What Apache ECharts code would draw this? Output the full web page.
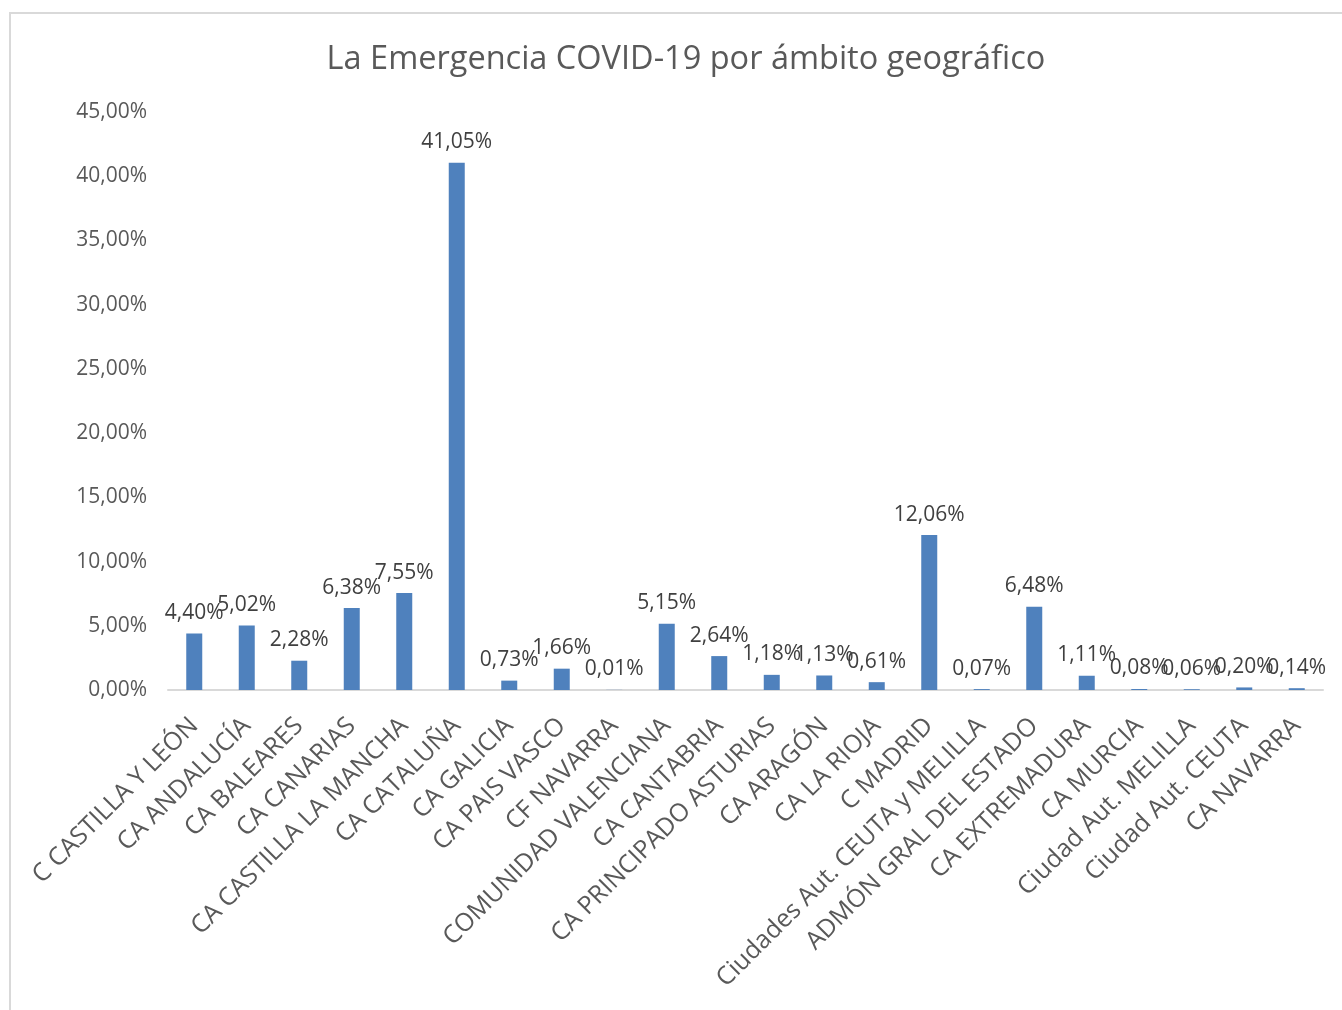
<!DOCTYPE html>
<html><head><meta charset="utf-8">
<script src="https://cdn.jsdelivr.net/npm/echarts@6/dist/echarts.min.js"></script>
<style>html,body{margin:0;padding:0;background:#fff}#c{width:1342px;height:1010px}</style>
</head><body><div id="c"></div>
<script>
const categories = ["C CASTILLA Y LEÓN","CA ANDALUCÍA","CA BALEARES","CA CANARIAS","CA CASTILLA LA MANCHA","CA CATALUÑA","CA GALICIA","CA PAIS VASCO","CF NAVARRA","COMUNIDAD VALENCIANA","CA CANTABRIA","CA PRINCIPADO ASTURIAS","CA ARAGÓN","CA LA RIOJA","C MADRID","Ciudades Aut. CEUTA y MELILLA","ADMÓN GRAL DEL ESTADO","CA EXTREMADURA","CA MURCIA","Ciudad Aut. MELILLA","Ciudad Aut. CEUTA","CA NAVARRA"];
const values = [4.40,5.02,2.28,6.38,7.55,41.05,0.73,1.66,0.01,5.15,2.64,1.18,1.13,0.61,12.06,0.07,6.48,1.11,0.08,0.06,0.20,0.14];
const title = "La Emergencia COVID-19 por ámbito geográfico";
const fmt = v => v.toFixed(2).replace('.', ',') + '%';
const chart = echarts.init(document.getElementById('c'));
const font = '"Open Sans", sans-serif';
chart.setOption({
  animation:false,
  textStyle:{fontFamily:font},
  graphic:[{type:'rect',shape:{x:10,y:13,width:1340,height:1005},style:{fill:'none',stroke:'#d9d9d9',lineWidth:2},z:-1}],
  title:{text:title,left:681,textAlign:'center',top:38,textStyle:{fontFamily:font,fontSize:32.5,fontWeight:'normal',color:'#595959'}},
  grid:{left:168,right:19,top:112,bottom:320,containLabel:false},
  xAxis:{type:'category',data:categories,
    axisLine:{lineStyle:{color:'#d9d9d9',width:2}},axisTick:{show:false},
    axisLabel:{rotate:45,interval:0,fontSize:25,color:'#595959',margin:32,fontFamily:font}},
  yAxis:{type:'value',min:0,max:45,interval:5,
    axisLine:{show:false},axisTick:{show:false},splitLine:{show:false},
    axisLabel:{formatter:v=>fmt(v),fontSize:21,color:'#595959',margin:21,fontFamily:font}},
  series:[{type:'bar',data:values,barWidth:16,itemStyle:{color:'#4f81bd'},
    label:{show:true,position:'top',distance:10,formatter:p=>fmt(p.value),fontSize:21,color:'#404040',fontFamily:font}}]
});
</script></body></html>
